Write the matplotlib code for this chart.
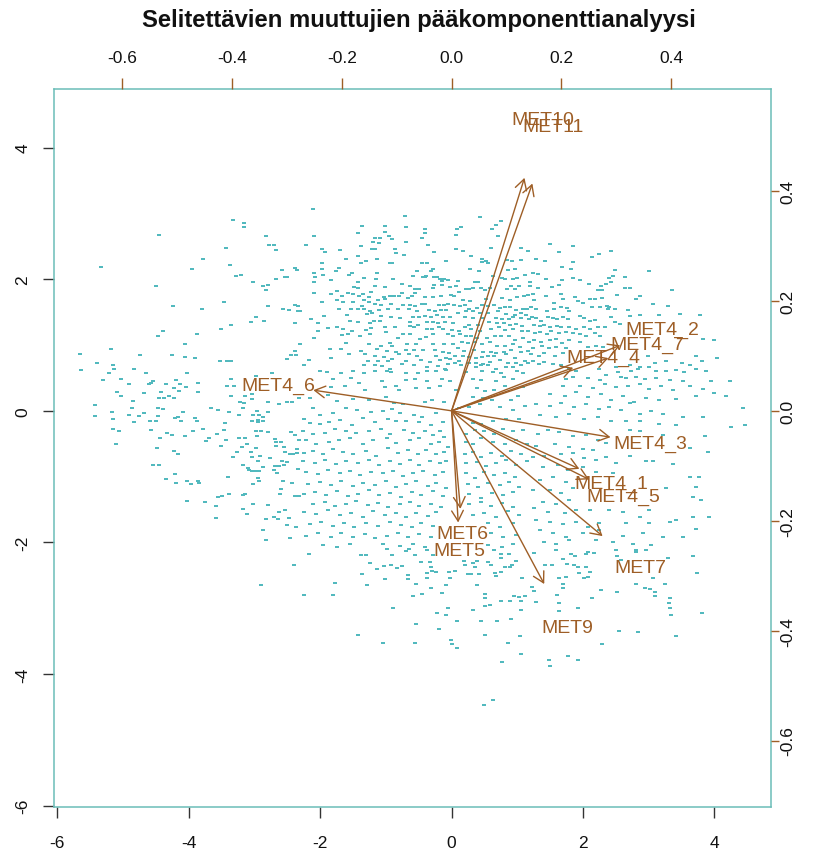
import matplotlib
matplotlib.use("Agg")
import matplotlib.pyplot as plt
from matplotlib.path import Path
import numpy as np

plt.rcParams['font.family'] = ['Liberation Sans', 'DejaVu Sans']
plt.rcParams['axes.unicode_minus'] = False

title = "Selitettävien muuttujien pääkomponenttianalyysi"

# variable loadings (PC1, PC2)
variables = ["MET10", "MET11", "MET4_2", "MET4_7", "MET4_4", "MET4_6", "MET4_3",
             "MET4_1", "MET4_5", "MET7", "MET9", "MET6", "MET5"]
load_pc1 = [0.166, 0.184, 0.384, 0.357, 0.277, -0.315, 0.362, 0.291, 0.313, 0.344, 0.211, 0.020, 0.015]
load_pc2 = [0.530, 0.517, 0.149, 0.120, 0.098, 0.047, -0.060, -0.132, -0.156, -0.285, -0.394, -0.223, -0.254]

score_ticks = [-6, -4, -2, 0, 2, 4]
load_ticks = [-0.6, -0.4, -0.2, 0.0, 0.2, 0.4]
load_tick_labels = ["-0.6", "-0.4", "-0.2", "0.0", "0.2", "0.4"]

# observation scores (PC1, PC2)
scores = [
    (-3.33,2.90),(-3.16,2.85),(-3.16,2.79),(-4.45,2.67),(-2.83,2.65),(-2.78,2.52),(-2.71,2.52),(-3.44,2.48),(-2.67,2.44),(-3.78,2.30),
    (-5.34,2.19),(-3.37,2.21),(-3.95,2.15),(-2.58,2.14),(-2.39,2.17),(-2.35,2.14),(-3.28,2.05),(-3.20,2.06),(-2.54,2.03),(-2.51,2.03),
    (-2.67,2.01),(-3.02,1.95),(-2.87,1.89),(-2.79,1.91),(-4.50,1.90),(-2.83,1.84),(-3.46,1.66),(-4.24,1.59),(-3.80,1.54),(-2.79,1.59),
    (-2.56,1.55),(-2.48,1.53),(-2.39,1.61),(-2.33,1.59),(-2.33,1.51),(-2.98,1.42),(-3.05,1.35),(-2.85,1.36),(-3.35,1.31),(-2.39,1.33),
    (-4.39,1.22),(-3.51,1.24),(-4.46,1.13),(-3.87,1.17),(-4.05,1.02),(-5.18,0.94),(-5.65,0.87),(-4.74,0.85),(-4.26,0.85),(-4.06,0.82),
    (-3.91,0.80),(-2.39,0.91),(-2.44,0.85),(-2.37,0.85),(-2.50,0.78),(-5.39,0.73),(-3.52,0.75),(-3.42,0.75),(-3.35,0.76),(-5.15,0.69),
    (-5.64,0.62),(-5.14,0.64),(-4.83,0.64),(-5.21,0.58),(-4.65,0.58),(-4.03,0.57),(-2.74,0.57),
    (-2.11,3.07),(-0.71,2.96),(0.43,2.94),(0.75,2.88),(0.68,2.83),(0.61,2.77),(-1.36,2.81),(-1.01,2.81),(-0.70,2.79),(-0.41,2.76),
    (0.14,2.79),(0.08,2.77),(-0.40,2.70),(-1.43,2.70),(-1.01,2.72),(-2.09,2.65),(0.71,2.66),(-0.95,2.65),(0.07,2.67),(-1.09,2.62),
    (-1.16,2.62),(-1.19,2.57),(-0.45,2.62),(-0.90,2.61),(-0.69,2.56),(-1.10,2.55),(-0.36,2.52),(-2.21,2.52),(-1.38,2.51),(-0.86,2.46),
    (-1.21,2.46),(-1.17,2.46),(0.06,2.46),(0.17,2.43),(0.60,2.47),(1.06,2.48),(-1.97,2.46),(-1.70,2.44),(-1.92,2.41),(-0.84,2.40),
    (-0.27,2.41),(-0.72,2.37),(-1.42,2.35),(-1.13,2.30),(-1.60,2.30),(-1.30,2.28),(-0.93,2.25),(-0.90,2.25),(-0.37,2.24),(-0.45,2.25),
    (-0.08,2.28),(0.30,2.36),(0.46,2.31),(0.47,2.26),(0.53,2.27),(0.55,2.24),(0.85,2.29),(0.92,2.27),(1.16,2.43),(1.05,2.29),
    (-1.97,2.25),(-1.38,2.25),(-1.71,2.17),(-1.97,2.16),(-1.76,2.12),(-0.28,2.15),(0.28,2.15),(0.41,2.13),(0.86,2.14),(0.96,2.15),
    (-0.52,2.13),(-2.09,2.10),(-1.96,2.06),(-1.56,2.06),(-1.51,2.10),(-1.13,2.10),(-0.32,2.12),(-2.08,2.04),(-1.15,2.01),(-0.89,2.01),
    (-0.58,2.05),(-0.44,2.04),(-0.41,2.03),(-0.39,2.05),(-0.27,2.03),(-0.22,2.03),(-0.18,2.01),(-0.12,2.00),(-0.15,1.97),(-0.05,1.99),
    (0.09,1.98),(0.35,1.96),(0.40,1.96),(0.63,2.05),(0.76,2.02),(0.82,2.01),(0.93,2.01),(1.00,2.02),(1.12,2.06),(-1.83,1.99),
    (-2.10,1.96),(-1.43,1.95),(-1.33,2.02),(-1.16,1.89),(-1.01,1.88),(-0.75,1.93),(-0.63,1.89),(-0.50,1.85),(-0.56,1.85),(-0.55,1.79),
    (-0.28,1.86),(-0.27,1.91),(-0.15,1.91),(-0.03,1.88),(0.07,1.89),(0.22,1.85),(0.27,1.85),(0.33,1.86),(0.45,1.86),(0.51,1.83),
    (0.59,1.87),(0.84,1.85),(0.91,1.89),(0.97,1.85),(1.03,1.89),(1.19,1.90),(-2.09,1.79),(-1.75,1.82),(-1.49,1.88),(-1.42,1.86),
    (-1.57,1.79),(-1.50,1.78),(-1.35,1.78),(-1.23,1.80),(-1.03,1.73),(-0.94,1.75),(-0.87,1.75),(-0.80,1.74),(-0.75,1.79),(-0.66,1.71),
    (-0.61,1.75),(-0.41,1.73),(-0.29,1.73),(-0.16,1.74),(-0.01,1.76),(0.04,1.74),(0.12,1.80),(0.18,1.69),(0.28,1.67),(0.52,1.70),
    (0.76,1.72),(0.89,1.69),(0.99,1.73),(1.10,1.74),(1.16,1.76),(-1.83,1.77),(-1.67,1.75),(-1.41,1.75),(-1.26,1.73),(-1.33,1.68),
    (-1.12,1.68),(-1.01,1.70),(-1.75,1.68),(-1.65,1.66),(-1.97,1.66),(-1.50,1.65),(-1.36,1.60),(-1.26,1.65),(-1.17,1.63),(-1.07,1.61),
    (-0.92,1.62),(-0.74,1.61),(-0.63,1.61),(-0.55,1.59),(-0.45,1.62),(-0.40,1.62),(-0.19,1.61),(-0.11,1.61),(-0.05,1.63),(0.04,1.61),
    (0.13,1.59),(0.21,1.61),(0.26,1.55),(0.38,1.56),(0.47,1.61),(0.56,1.60),(0.65,1.61),(0.74,1.56),(0.82,1.58),(0.89,1.57),
    (0.98,1.53),(1.08,1.54),(1.15,1.55),(-2.30,1.52),(-1.72,1.54),(-1.53,1.55),(-1.43,1.54),(-1.34,1.55),(-1.24,1.52),(-1.10,1.53),
    (-0.97,1.54),(-0.82,1.55),(-0.65,1.55),(-0.52,1.52),(-0.34,1.53),(-0.26,1.51),(-0.16,1.53),(-0.09,1.53),(0.10,1.49),(0.22,1.51),
    (0.32,1.52),(0.43,1.48),(0.55,1.49),(0.70,1.51),(0.83,1.47),(0.96,1.46),(1.06,1.48),(1.13,1.46),(-2.14,1.39),(-1.94,1.44),
    (-1.59,1.46),(-1.28,1.47),(-1.21,1.48),(-1.07,1.44),(-0.79,1.41),(-0.58,1.43),(-0.49,1.42),(-0.41,1.44),(-0.32,1.43),(-0.22,1.46),
    (-0.13,1.42),(-0.03,1.43),(0.20,1.42),(0.32,1.41),(0.46,1.41),(0.67,1.41),(0.77,1.39),(0.87,1.40),(0.93,1.42),(1.05,1.41),
    (1.18,1.39),(-2.03,1.33),(-1.55,1.36),(-1.42,1.35),(-1.24,1.34),(-1.18,1.36),(-1.09,1.37),(-0.92,1.42),(-0.64,1.35),(-0.51,1.30),
    (-0.38,1.35),(-0.28,1.35),(-0.21,1.34),(-0.10,1.35),(0.02,1.33),(0.26,1.31),(0.40,1.31),(0.57,1.35),(0.69,1.34),(0.80,1.34),
    (0.89,1.30),(0.98,1.32),(1.07,1.29),(-2.04,1.21),(-1.88,1.26),(-1.74,1.27),(-1.65,1.25),(-1.51,1.21),(-1.30,1.23),(-1.23,1.26),
    (-1.01,1.27),(-0.86,1.27),(-0.64,1.29),(-0.57,1.28),(-0.38,1.25),(-0.30,1.25),(-0.19,1.28),(-0.13,1.25),(0.01,1.23),(0.11,1.22),
    (0.21,1.27),(0.30,1.24),(0.43,1.22),(0.60,1.24),(0.72,1.27),(0.82,1.23),(0.94,1.24),(1.07,1.21),(1.17,1.21),(-2.09,1.10),
    (-1.67,1.15),(-1.57,1.17),(-1.39,1.13),(-1.24,1.17),(-1.00,1.20),(-0.81,1.11),(-0.74,1.17),(-0.64,1.16),(-0.48,1.09),(-0.39,1.12),
    (-0.28,1.17),(-0.06,1.16),(0.02,1.14),(0.13,1.17),(0.22,1.14),(0.30,1.13),(0.38,1.10),(0.54,1.11),(0.66,1.13),(0.75,1.14),
    (0.87,1.13),(0.96,1.07),(1.08,1.11),(-2.30,1.02),(-1.60,1.03),(-1.26,1.01),(-1.07,0.99),(-0.94,1.03),(-0.90,0.98),(-0.68,1.02),
    (-0.54,1.01),(-0.29,1.01),(-0.12,1.01),(0.02,1.02),(0.16,1.05),(0.25,1.03),(0.35,1.04),(0.46,1.01),(0.59,1.04),(0.69,0.99),
    (0.81,0.99),(0.93,1.01),(1.04,0.97),(1.18,1.04),(-1.85,0.94),(-1.69,0.94),(-1.38,0.91),(-1.13,0.94),(-0.98,0.91),(-0.84,0.90),
    (-0.70,0.93),(-0.57,0.92),(-0.43,0.93),(-0.25,0.92),(-0.13,0.89),(-0.04,0.88),(0.09,0.96),(0.19,0.91),(0.34,0.92),(0.48,0.89),
    (0.60,0.90),(0.68,0.88),(0.79,0.90),(0.90,0.93),(1.06,0.89),(1.16,0.91),(-1.56,0.86),(-1.32,0.86),(-1.16,0.84),(-1.03,0.82),
    (-0.90,0.79),(-0.80,0.86),(-0.65,0.87),(-0.53,0.84),(-0.23,0.84),(-0.09,0.81),(0.05,0.83),(0.18,0.84),(0.27,0.82),(0.37,0.80),
    (0.47,0.82),(0.55,0.84),(0.65,0.83),(0.83,0.86),(0.97,0.81),(-2.17,0.77),(-1.84,0.80),(-1.27,0.75),(-1.12,0.76),(-0.97,0.75),
    (-0.69,0.76),(-0.47,0.77),(-0.33,0.74),(-0.18,0.77),(-0.02,0.79),(0.11,0.76),(0.27,0.73),(0.37,0.73),(0.48,0.71),(0.59,0.74),
    (0.73,0.77),(0.86,0.73),(0.98,0.72),(1.11,0.75),(-2.25,0.69),(-1.34,0.70),(-1.17,0.69),(-1.06,0.68),(-0.93,0.63),(-0.75,0.71),
    (-0.57,0.69),(-0.37,0.66),(-0.21,0.68),(-0.10,0.64),(-0.05,0.71),(0.05,0.73),(0.14,0.70),(0.37,0.66),(0.44,0.69),(0.55,0.70),
    (0.68,0.64),(0.83,0.67),(0.93,0.66),(1.06,0.69),(1.17,0.73),(-2.01,0.60),(-1.90,0.59),(-1.69,0.58),(-1.50,0.61),(-1.34,0.58),
    (-1.17,0.61),(-0.99,0.61),(-0.92,0.59),(-0.70,0.58),(-0.51,0.57),(-0.38,0.60),(-0.24,0.61),(-0.08,0.62),(0.22,0.59),(0.46,0.61),
    (0.63,0.59),(0.75,0.58),(1.00,0.60),(1.08,0.58),
    (1.50,2.54),(1.85,2.51),(1.63,2.41),(2.24,2.39),(2.43,2.43),(1.28,2.31),(1.42,2.28),(2.13,2.34),(1.85,2.26),(1.68,2.19),
    (1.82,2.15),(2.48,2.14),(3.00,2.12),(1.24,2.09),(1.31,2.08),(1.44,2.01),(1.68,1.99),(1.85,2.02),(1.96,1.99),(2.40,2.02),
    (2.45,2.05),(2.64,2.04),(1.20,1.95),(1.53,1.88),(1.64,1.91),(2.09,1.92),(2.28,1.90),(2.35,1.93),(2.43,1.95),(2.23,1.84),
    (2.29,1.84),(2.64,1.87),(2.72,1.87),(3.35,1.84),(1.32,1.86),(1.24,1.77),(1.43,1.75),(1.66,1.77),(1.70,1.70),(1.88,1.73),
    (2.10,1.70),(2.18,1.70),(2.29,1.72),(2.51,1.76),(2.87,1.75),(1.26,1.69),(1.56,1.64),(1.92,1.67),(2.00,1.64),(2.26,1.58),
    (2.37,1.60),(2.38,1.55),(2.69,1.53),(2.80,1.70),(3.07,1.62),(3.29,1.59),(1.21,1.57),(1.29,1.55),(1.45,1.51),(1.56,1.55),
    (1.66,1.57),(1.76,1.56),(1.79,1.52),(2.13,1.57),(2.40,1.57),(2.49,1.54),(2.71,1.44),(2.87,1.45),(3.15,1.46),(3.48,1.47),
    (3.78,1.45),(1.23,1.43),(1.29,1.41),(1.36,1.37),(1.47,1.43),(1.54,1.41),(1.60,1.39),(1.69,1.43),(1.77,1.40),(1.95,1.44),
    (2.01,1.41),(2.11,1.37),(2.18,1.38),(2.43,1.42),(2.49,1.35),(2.56,1.32),(1.25,1.31),(1.34,1.29),(1.41,1.30),(1.50,1.28),
    (1.60,1.29),(1.67,1.27),(1.79,1.27),(1.90,1.25),(2.01,1.27),(2.11,1.24),(2.23,1.28),(2.33,1.27),(1.27,1.18),(1.35,1.20),
    (1.45,1.17),(1.52,1.22),(1.64,1.19),(1.74,1.20),(1.85,1.18),(1.95,1.17),(2.05,1.13),(2.18,1.18),(2.26,1.14),(3.82,1.09),
    (4.00,1.07),(4.04,0.81),(1.26,1.07),(1.36,1.04),(1.49,1.07),(1.59,1.09),(1.68,1.03),(1.79,1.07),(1.95,1.04),(2.08,0.97),
    (2.20,0.99),(2.30,0.97),(1.24,0.96),(1.38,0.99),(1.48,0.95),(1.59,0.97),(1.74,0.96),(1.21,0.86),(1.33,0.84),(1.41,0.88),
    (1.57,0.84),(1.69,0.88),(2.99,0.84),(3.09,0.73),(3.26,0.76),(3.51,0.73),(3.62,0.69),(3.72,0.84),(3.81,0.75),(1.24,0.75),
    (1.33,0.71),(1.41,0.74),(1.54,0.71),(1.67,0.69),(2.50,0.66),(2.71,0.69),(2.86,0.67),(3.01,0.67),(1.79,0.63),(1.90,0.60),
    (2.25,0.63),(2.53,0.59),(2.73,0.60),(2.83,0.63),(3.11,0.60),(3.26,0.60),(3.42,0.62),(3.53,0.59),(3.72,0.64),(3.87,0.61),
    (-5.30,0.47),(-5.03,0.49),(-4.91,0.41),(-4.61,0.40),(-4.54,0.46),(-4.34,0.40),(-4.19,0.47),(-4.13,0.40),(-3.86,0.42),(-3.35,0.49),
    (-3.42,0.38),(-3.31,0.38),(-2.97,0.53),(-5.42,0.09),(-5.42,-0.08),(-5.09,0.29),(-5.03,0.22),(-4.85,0.15),(-4.86,0.05),(-4.68,0.27),
    (-4.57,0.42),(-4.45,0.20),(-4.42,0.28),(-4.38,0.20),(-4.30,0.22),(-4.22,0.34),(-4.22,0.20),(-4.15,0.30),(-4.04,0.36),(-3.86,0.28),
    (-5.16,-0.02),(-5.15,-0.13),(-4.91,-0.06),(-4.83,-0.17),(-4.76,-0.08),(-4.68,-0.04),(-4.59,-0.15),(-4.50,-0.15),(-4.47,-0.08),(-4.46,0.04),
    (-4.39,0.03),(-4.21,-0.11),(-4.16,-0.10),(-4.08,-0.02),(-4.11,-0.15),(-3.91,-0.11),(-3.87,-0.15),(-3.66,0.05),(-3.55,0.02),(-3.45,-0.19),
    (-3.38,-0.02),(-3.36,0.22),(-3.24,-0.06),(-3.22,0.14),(-3.17,0.05),(-3.16,0.12),(-3.14,0.23),(-3.04,0.18),(-3.03,0.25),(-3.02,-0.07),
    (-2.96,-0.01),(-2.93,-0.06),(-2.87,-0.10),(-3.03,-0.16),(-2.95,-0.14),(-2.79,-0.02),(-2.79,0.14),(-2.63,0.10),(-2.50,0.13),(-2.43,0.14),
    (-2.32,0.19),(-5.15,-0.27),(-5.06,-0.31),(-5.11,-0.51),(-4.58,-0.29),(-4.48,-0.57),(-4.43,-0.41),(-4.33,-0.33),(-4.26,-0.36),(-4.22,-0.61),
    (-4.17,-0.66),(-4.06,-0.38),(-3.94,-0.30),(-3.78,-0.27),(-3.74,-0.46),(-3.69,-0.42),(-3.57,-0.35),(-3.51,-0.53),(-3.46,-0.29),(-3.44,-0.44),
    (-3.33,-0.70),(-3.27,-0.62),(-3.23,-0.42),(-3.17,-0.83),(-3.15,-0.42),(-3.19,-0.55),(-3.12,-0.51),(-3.05,-0.62),(-2.98,-0.57),(-3.03,-0.70),
    (-2.94,-0.76),(-2.92,-0.69),(-2.96,-0.38),(-2.98,-0.30),(-2.90,-0.30),(-2.94,-0.17),(-2.87,-0.16),(-2.79,-0.32),(-2.76,-0.71),(-2.69,-0.43),
    (-2.67,-0.54),(-2.67,-0.48),(-2.59,-0.48),(-2.55,-0.55),(-2.53,-0.63),(-2.46,-0.65),(-2.41,-0.65),(-2.36,-0.64),(-2.45,-0.32),(-2.38,-0.36),
    (-2.32,-0.44),(-2.36,-0.58),(-2.58,-0.77),(-2.55,-0.83),(-2.69,-0.84),(-2.63,-0.84),(-2.70,-0.90),(-2.65,-0.95),(-2.50,-0.78),(-2.33,-0.88),
    (-4.54,-0.83),(-4.45,-0.82),(-4.21,-0.96),(-4.19,-1.10),(-4.34,-1.04),(-4.03,-1.07),(-3.86,-1.06),(-3.85,-1.10),(-3.97,-1.11),(-3.40,-1.01),
    (-3.55,-1.31),(-3.50,-1.29),(-3.38,-1.26),(-3.18,-1.28),(-3.14,-1.26),(-3.09,-0.90),(-3.03,-0.91),(-2.99,-0.92),(-2.93,-0.91),(-2.95,-1.02),
    (-2.93,-1.06),(-3.02,-1.11),(-3.10,-0.87),(-2.87,-0.86),(-2.57,-1.07),(-2.60,-1.19),(-2.61,-1.26),(-2.43,-1.10),(-2.38,-1.30),(-2.32,-1.30),
    (-4.03,-1.37),(-3.75,-1.39),(-3.59,-1.44),(-3.18,-1.49),(-3.12,-1.57),(-3.58,-1.63),(-3.02,-1.41),(-2.79,-1.43),(-2.70,-1.61),(-2.64,-1.65),
    (-2.83,-1.65),(-2.54,-1.51),(-2.62,-1.54),(-2.48,-1.63),(-2.50,-1.74),(-2.37,-1.77),(-2.87,-1.81),(-2.46,-1.93),(-2.83,-1.97),
    (-1.80,0.49),(-1.53,0.50),(-1.41,0.42),(-1.06,0.46),(-0.84,0.37),(-0.69,0.47),(-0.56,0.49),(-0.37,0.46),(-0.15,0.49),(-0.02,0.45),
    (0.33,0.49),(0.45,0.47),(0.68,0.45),(0.79,0.51),(0.93,0.49),(-1.83,0.36),(-1.62,0.37),(-1.32,0.32),(-1.01,0.36),(-0.80,0.32),
    (-0.54,0.35),(-0.35,0.35),(-0.18,0.37),(0.07,0.32),(0.39,0.34),(0.51,0.30),(0.65,0.32),(0.82,0.37),(1.08,0.36),(-2.16,0.20),
    (-1.88,0.24),(-1.75,0.15),(-1.50,0.18),(-1.25,0.16),(-1.00,0.21),(-0.87,0.12),(-0.74,0.10),(-0.41,0.13),(-0.30,0.17),(-0.11,0.13),
    (0.32,0.21),(0.48,0.19),(0.62,0.16),(0.91,0.17),(1.01,0.23),(-2.11,0.05),(-2.01,-0.07),(-1.80,-0.04),(-1.60,0.05),(-1.44,0.02),
    (-1.23,-0.02),(-1.04,-0.01),(-0.91,0.03),(-0.79,-0.04),(-0.57,-0.06),(-0.45,-0.10),(-0.24,-0.04),(0.12,0.04),(0.26,0.06),(0.43,0.10),
    (0.73,0.06),(0.94,0.01),(1.11,0.08),(-2.24,-0.12),(-2.16,-0.18),(-2.01,-0.20),(-1.86,-0.17),(-1.70,-0.14),(-1.51,-0.21),(-1.35,-0.11),
    (-1.16,-0.17),(-0.97,-0.12),(-0.84,-0.15),(-0.69,-0.15),(-0.50,-0.17),(-0.32,-0.21),(-0.13,-0.17),(0.32,-0.19),(0.45,-0.20),(0.63,-0.15),
    (0.83,-0.13),(1.03,-0.12),(-2.26,-0.31),(-2.11,-0.35),(-1.92,-0.34),(-1.78,-0.27),(-1.60,-0.30),(-1.45,-0.34),(-1.25,-0.31),(-1.07,-0.27),
    (-0.94,-0.35),(-0.73,-0.29),(-0.59,-0.34),(-0.41,-0.30),(-0.28,-0.37),(-0.18,-0.31),(-0.11,-0.40),(0.22,-0.35),(0.35,-0.29),(0.50,-0.31),
    (0.65,-0.35),(0.78,-0.27),(0.93,-0.31),(1.08,-0.29),(-2.21,-0.45),(-2.06,-0.50),(-1.86,-0.47),(-1.71,-0.44),(-1.55,-0.42),(-1.35,-0.50),
    (-1.20,-0.45),(-0.99,-0.41),(-0.84,-0.49),(-0.64,-0.45),(-0.49,-0.42),(-0.31,-0.51),(-0.19,-0.47),(-0.06,-0.55),(0.22,-0.47),(0.32,-0.51),
    (0.45,-0.42),(0.63,-0.47),(0.81,-0.51),(0.98,-0.45),(1.14,-0.50),(-2.24,-0.64),(-2.11,-0.61),(-1.96,-0.65),(-1.80,-0.58),(-1.65,-0.63),
    (-1.50,-0.66),(-1.30,-0.61),(-1.15,-0.68),(-0.97,-0.56),(-0.82,-0.64),(-0.66,-0.59),(-0.51,-0.66),(-0.39,-0.60),(-0.23,-0.65),(-0.11,-0.63),
    (0.20,-0.66),(0.32,-0.63),(0.45,-0.70),(0.60,-0.64),(0.76,-0.68),(0.91,-0.61),(1.06,-0.65),(-2.26,-0.76),(-2.08,-0.79),(-1.93,-0.74),
    (-1.76,-0.81),(-1.60,-0.76),(-1.42,-0.80),(-1.25,-0.74),(-1.10,-0.83),(-0.94,-0.76),(-0.79,-0.81),(-0.64,-0.75),(-0.49,-0.83),(-0.33,-0.76),
    (-0.18,-0.80),(-0.08,-0.76),(0.22,-0.80),(0.38,-0.78),(0.53,-0.84),(0.68,-0.79),(0.83,-0.74),(0.98,-0.83),(1.14,-0.76),(-2.21,-0.93),
    (-2.03,-0.96),(-1.88,-0.90),(-1.70,-0.95),(-1.55,-0.91),(-1.40,-0.98),(-1.22,-0.93),(-1.05,-0.95),(-0.89,-0.91),(-0.74,-0.99),(-0.59,-0.94),
    (-0.43,-0.91),(-0.26,-0.98),(-0.13,-0.93),(0.22,-0.95),(0.35,-1.02),(0.50,-0.93),(0.65,-0.98),(0.81,-0.94),(0.96,-1.01),(-2.19,-1.11),
    (-2.01,-1.08),(-1.83,-1.13),(-1.68,-1.07),(-1.50,-1.15),(-1.35,-1.10),(-1.17,-1.13),(-1.00,-1.07),(-0.84,-1.16),(-0.69,-1.11),(-0.54,-1.07),
    (-0.36,-1.15),(-0.23,-1.10),(-0.08,-1.17),(0.25,-1.11),(0.40,-1.16),(0.55,-1.10),(0.73,-1.13),(0.88,-1.08),(1.03,-1.16),(-2.24,-1.26),
    (-2.08,-1.23),(-1.91,-1.28),(-1.75,-1.22),(-1.58,-1.30),(-1.42,-1.26),(-1.25,-1.21),(-1.10,-1.28),(-0.93,-1.25),(-0.77,-1.31),(-0.61,-1.23),
    (-0.46,-1.28),(-0.28,-1.22),(-0.13,-1.30),(0.27,-1.26),(0.45,-1.32),(0.62,-1.25),(0.78,-1.28),(0.93,-1.23),(-2.11,-1.42),(-1.93,-1.38),
    (-1.78,-1.45),(-1.60,-1.41),(-1.45,-1.37),(-1.27,-1.43),(-1.12,-1.40),(-0.97,-1.46),(-0.79,-1.42),(-0.64,-1.38),(-0.49,-1.45),(-0.31,-1.41),
    (-0.16,-1.46),(0.27,-1.42),(0.45,-1.38),(0.60,-1.45),(0.76,-1.40),(0.93,-1.46),(-2.24,-1.54),(-2.06,-1.57),(-1.88,-1.51),(-1.70,-1.59),
    (-1.53,-1.55),(-1.35,-1.61),(-1.20,-1.52),(-1.02,-1.59),(-0.84,-1.56),(-0.69,-1.61),(-0.54,-1.55),(-0.36,-1.60),(-0.23,-1.54),(0.32,-1.59),
    (0.50,-1.55),(0.68,-1.61),(0.86,-1.52),(1.03,-1.59),(-2.16,-1.72),(-1.98,-1.69),(-1.80,-1.75),(-1.63,-1.70),(-1.48,-1.77),(-1.30,-1.71),
    (-1.12,-1.75),(-0.94,-1.69),(-0.77,-1.74),(-0.61,-1.77),(-0.46,-1.70),(-0.28,-1.75),(0.55,-1.70),(0.73,-1.76),(0.93,-1.71),(-2.21,-1.90),
    (-2.03,-1.86),(-1.83,-1.91),(-1.68,-1.85),(-1.50,-1.92),(-1.32,-1.87),(-1.16,-1.94),(-0.98,-1.90),(-0.82,-1.85),(-0.66,-1.92),(-0.49,-1.87),
    (-0.31,-1.91),(0.60,-1.86),(0.78,-1.92),(0.98,-1.89),(-1.96,-2.04),(-1.75,-2.07),(-1.55,-2.03),(-1.04,-2.03),(-0.79,-2.06),(-0.59,-2.03),
    (-0.41,-2.07),(0.55,-2.04),(0.76,-2.07),(0.93,-2.02),
    (1.74,0.49),(1.85,0.52),(2.08,0.50),(2.26,0.47),(2.35,0.54),(2.57,0.52),(2.66,0.50),(2.81,0.51),(2.94,0.49),(3.11,0.50),
    (3.32,0.47),(3.52,0.46),(3.95,0.46),(4.24,0.46),(1.69,0.38),(1.95,0.37),(2.15,0.35),(2.33,0.41),(2.50,0.36),(2.68,0.38),
    (2.86,0.41),(3.01,0.33),(3.19,0.37),(3.37,0.32),(3.62,0.38),(3.82,0.33),(1.49,0.26),(1.72,0.23),(1.90,0.28),(2.07,0.21),
    (2.28,0.25),(2.43,0.17),(2.61,0.22),(2.78,0.13),(2.96,0.20),(3.16,0.16),(3.42,0.18),(3.72,0.22),(4.00,0.27),(4.18,0.22),
    (1.29,0.11),(1.49,0.08),(1.67,0.12),(1.87,0.06),(2.05,0.10),(2.25,0.03),(2.40,0.06),(2.58,0.01),(2.71,0.12),(2.86,-0.05),
    (3.04,-0.01),(3.21,-0.05),(3.52,-0.09),(3.82,-0.10),(4.43,0.05),(1.34,-0.07),(1.59,-0.10),(1.79,-0.05),(2.02,-0.12),(2.23,-0.09),
    (2.43,-0.15),(2.66,-0.16),(2.86,-0.15),(3.16,-0.20),(3.42,-0.22),(4.25,-0.25),(4.46,-0.22),(1.31,-0.35),(1.47,-0.29),(1.64,-0.32),
    (1.85,-0.39),(2.05,-0.36),(2.23,-0.44),(2.71,-0.29),(2.86,-0.31),(3.21,-0.36),(3.85,-0.39),(1.29,-0.53),(1.57,-0.50),(1.79,-0.55),
    (2.00,-0.58),(2.15,-0.60),(2.35,-0.49),(3.62,-0.56),(3.90,-0.63),(1.24,-0.70),(1.41,-0.68),(1.67,-0.65),(1.85,-0.64),(2.02,-0.71),
    (2.20,-0.75),(2.35,-0.70),(2.50,-0.80),(2.71,-0.69),(2.96,-0.76),(3.06,-0.76),(3.37,-0.81),(1.39,-0.86),(1.62,-0.83),(1.77,-0.90),
    (2.00,-0.86),(2.20,-0.93),(2.45,-0.95),(3.62,-1.01),(3.77,-1.00),(3.72,-1.16),(1.34,-1.05),(1.54,-1.01),(1.74,-1.08),(1.24,-1.21),
    (1.49,-1.20),(1.67,-1.25),(1.85,-1.18),(3.26,-1.18),(1.39,-1.38),(1.59,-1.42),(1.79,-1.36),(3.67,-1.31),(3.80,-1.35),(1.26,-1.48),
    (1.47,-1.54),(1.72,-1.56),(1.90,-1.51),(2.10,-1.51),(2.40,-1.51),(2.61,-1.54),(2.86,-1.61),(3.01,-1.51),(3.32,-1.69),(3.42,-1.66),
    (3.67,-1.62),(3.92,-1.62),(1.29,-1.66),(1.49,-1.69),(1.69,-1.72),(1.90,-1.69),(2.07,-1.76),(2.25,-1.70),(2.66,-1.70),(3.01,-1.71),
    (3.72,-1.79),(1.34,-1.81),(1.54,-1.86),(1.74,-1.91),(2.00,-1.85),(2.25,-1.81),(2.61,-1.90),(2.91,-1.86),(3.21,-1.91),(3.52,-1.92),
    (1.41,-1.99),(1.59,-2.02),(1.79,-1.96),(2.20,-1.96),(2.45,-1.99),(2.76,-2.03),(3.04,-2.04),
    (-2.40,-2.35),(-2.90,-2.65),
    (-2.17,-2.18),(-1.38,-2.19),(-1.31,-2.19),(-0.98,-2.10),(-0.91,-2.19),(-0.69,-2.13),(-0.65,-2.10),(-0.56,-2.19),(-0.38,-2.12),(-0.28,-2.19),
    (-1.24,-2.32),(-1.13,-2.41),(-1.03,-2.36),(-0.92,-2.34),(-0.83,-2.39),(-0.76,-2.36),(-1.37,-2.48),(-1.01,-2.56),(-0.67,-2.50),(-0.67,-2.56),
    (-0.47,-2.30),(-0.33,-2.30),(-0.32,-2.37),(-0.38,-2.47),(-0.38,-2.54),(-0.30,-2.43),(-0.23,-2.45),(-1.77,-2.61),(-2.25,-2.80),(-1.80,-2.80),
    (-1.29,-2.65),(-0.54,-2.63),(-0.31,-2.69),(-0.59,-2.81),(-0.45,-2.78),(-0.14,-2.77),(-0.08,-2.65),(-0.04,-2.45),(0.05,-2.43),(-0.03,-2.54),
    (0.19,-2.28),(0.21,-2.34),(0.32,-2.32),(0.36,-2.37),(0.38,-2.28),(0.25,-2.48),(0.30,-2.48),(0.41,-2.48),(0.38,-2.65),(0.56,-2.30),
    (0.60,-2.34),(0.64,-2.12),(0.75,-2.18),(0.87,-2.18),(0.75,-2.24),(0.89,-2.37),(0.81,-2.38),(0.92,-2.34),(0.98,-2.28),(0.66,-2.46),
    (0.75,-2.45),(0.68,-2.51),(1.07,-2.54),(0.51,-2.78),(0.51,-2.85),(0.51,-2.96),(0.59,-2.95),(0.32,-3.03),(0.75,-2.89),(0.89,-2.89),
    (0.95,-2.82),(1.02,-2.83),(1.06,-2.89),(1.12,-2.82),(1.06,-3.03),(-0.89,-3.00),(-0.22,-3.07),(-0.06,-2.99),(-0.08,-3.11),(0.08,-3.19),
    (0.45,-3.19),(0.69,-3.19),(0.91,-3.16),(-0.54,-3.24),(-0.19,-3.32),(-1.42,-3.41),(-1.05,-3.53),(-0.56,-3.53),(-0.01,-3.49),(0.01,-3.55),
    (0.08,-3.60),(0.51,-3.40),(1.04,-3.42),(0.86,-3.53),(1.05,-3.69),(0.77,-3.82),(0.63,-4.40),(0.49,-4.47),
    (1.26,-2.16),(1.59,-2.12),(1.81,-2.18),(1.88,-2.21),(2.04,-2.18),(2.08,-2.14),(2.17,-2.16),(2.50,-2.12),(2.52,-2.20),(2.80,-2.11),
    (2.96,-2.11),(2.80,-2.15),(3.29,-2.23),(3.68,-2.21),(1.42,-2.34),(1.53,-2.34),(1.69,-2.25),(1.75,-2.33),(1.86,-2.35),(1.92,-2.38),
    (2.05,-2.38),(2.10,-2.45),(1.94,-2.46),(2.01,-2.54),(2.08,-2.53),(1.63,-2.54),(1.74,-2.52),(1.70,-2.63),(1.69,-2.69),(1.23,-2.68),
    (1.26,-2.74),(1.29,-2.90),(1.61,-2.80),(1.63,-2.92),(1.64,-3.04),(1.92,-2.99),(2.13,-2.85),(2.27,-2.72),(2.51,-2.76),(2.58,-2.27),
    (2.81,-2.63),(2.95,-2.69),(3.02,-2.71),(3.09,-2.76),(3.09,-2.81),(3.07,-2.54),(3.24,-2.63),(3.33,-2.85),(3.31,-2.92),(3.33,-3.00),
    (3.34,-3.11),(3.73,-2.47),(3.81,-3.07),(2.54,-3.34),(2.83,-3.36),(3.41,-3.42),(2.29,-3.55),(1.48,-3.78),(1.50,-3.87),(1.77,-3.73),
    (1.92,-3.78),
]

point_color = "#52b9be"
box_color = "#6bbdb8"
load_color = "#9e5e26"
tick_color = "#333333"

score_lim_x = (-6.05, 4.86)
score_lim_y = (-6.02, 4.89)
ratio = 8.35

fig = plt.figure(figsize=(8.18, 8.54), dpi=100)
rect = [54 / 818, 46 / 854, 717 / 818, 718 / 854]

# scores panel
ax = fig.add_axes(rect)
pts = np.array(scores)
dash = Path([(-1.3, -0.55), (1.3, -0.55), (1.3, 0.55), (-1.3, 0.55), (-1.3, -0.55)],
            [Path.MOVETO, Path.LINETO, Path.LINETO, Path.LINETO, Path.CLOSEPOLY])
ax.scatter(pts[:, 0], pts[:, 1], marker=dash, s=6.5, color=point_color, linewidths=0)
ax.set_xlim(*score_lim_x)
ax.set_ylim(*score_lim_y)
for sp in ax.spines.values():
    sp.set_color(box_color)
    sp.set_linewidth(1.1)
ax.set_xticks(score_ticks)
ax.set_yticks(score_ticks)
ax.set_xticklabels([str(t) for t in score_ticks])
ax.set_yticklabels([str(t) for t in score_ticks], rotation=90, va="center")
ax.tick_params(direction="out", length=8, width=1, color=tick_color,
               labelsize=12.5, labelcolor="#111111")
ax.tick_params(axis="x", pad=12)
ax.tick_params(axis="y", pad=9)

# loadings panel
ax2 = fig.add_axes(rect, frameon=False)
ax2.set_xlim(score_lim_x[0] / ratio, score_lim_x[1] / ratio)
ax2.set_ylim(score_lim_y[0] / ratio, score_lim_y[1] / ratio)
ax2.xaxis.tick_top()
ax2.yaxis.tick_right()
ax2.set_xticks(load_ticks)
ax2.set_yticks(load_ticks)
ax2.set_xticklabels(load_tick_labels)
ax2.set_yticklabels(load_tick_labels, rotation=90, va="center")
ax2.tick_params(direction="out", length=8, width=1, color=load_color,
                labelsize=12.5, labelcolor="#111111")
ax2.tick_params(axis="x", pad=9)
ax2.tick_params(axis="y", length=6, pad=1)

for name, lx, ly in zip(variables, load_pc1, load_pc2):
    ax2.annotate("", xy=(0.8 * lx, 0.8 * ly), xytext=(0, 0),
                 arrowprops=dict(arrowstyle="->,head_length=0.75,head_width=0.42",
                                 color=load_color, lw=1.0, shrinkA=0, shrinkB=0))
    ax2.text(lx, ly, name, color=load_color, fontsize=14, ha="center", va="center")

fig.text(419 / 818, 1 - 21 / 854, title, ha="center", va="center",
         fontsize=17.2, fontweight="bold", color="#111111")

fig.savefig("out.png", dpi=100)
